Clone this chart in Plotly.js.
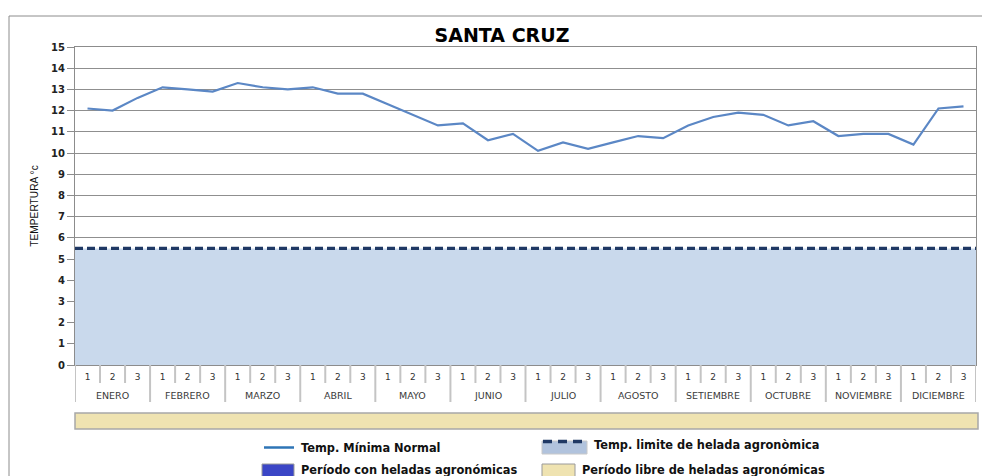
<!DOCTYPE html>
<html>
<head>
<meta charset="utf-8">
<script src="https://cdn.plot.ly/plotly-3.0.1.min.js"></script>
<style>
html,body{margin:0;padding:0;background:#fff;}
#chart{width:982px;height:476px;}
</style>
</head>
<body>
<div id="chart"></div>
<script>
// ---- data ----
const chartTitle = 'SANTA CRUZ';
const yTitle = 'TEMPERTURA °c';
const months = ['ENERO','FEBRERO','MARZO','ABRIL','MAYO','JUNIO','JULIO','AGOSTO','SETIEMBRE','OCTUBRE','NOVIEMBRE','DICIEMBRE'];
const dekadLabels = ['1','2','3'];
const tempMin = [12.1,12.0,12.6,13.1,13.0,12.9,13.3,13.1,13.0,13.1,12.8,12.8,
                 12.3,11.8,11.3,11.4,10.6,10.9,10.1,10.5,10.2,10.5,10.8,10.7,
                 11.3,11.7,11.9,11.8,11.3,11.5,10.8,10.9,10.9,10.4,12.1,12.2];
const frostLimit = 5.5;
const legendNames = ['Temp. Mínima Normal','Temp. limite de helada agronòmica','Período con heladas agronómicas','Período libre de heladas agronómicas'];

// ---- derived ----
const nPer = dekadLabels.length;
const N = months.length * nPer;
const xIdx = tempMin.map((_, i) => i + 0.5);
const tickText = [];
months.forEach(() => dekadLabels.forEach(d => tickText.push(d)));

// geometry helpers (px -> paper)
const W = 982, H = 476;
const M = {l: 75, r: 6, t: 47, b: 111};
const PW = W - M.l - M.r, PH = H - M.t - M.b;
const px = x => (x - M.l) / PW;
const py = y => (H - M.b - y) / PH;

const traces = [
  {x: [0, N], y: [frostLimit, frostLimit], type: 'scatter', mode: 'lines',
   fill: 'tozeroy', fillcolor: '#c9d9ec',
   line: {color: '#1f3864', width: 3.2, dash: '8px,4px'}, showlegend: false, hoverinfo: 'skip'},
  {x: xIdx, y: tempMin, type: 'scatter', mode: 'lines',
   line: {color: '#5b87c5', width: 2.2}, showlegend: false, name: legendNames[0]}
];

const shapes = [];
const annotations = [];
const divColor = '#c4c4c4';
// dividers between dekads and months
for (let b = 0; b <= N; b++) {
  const isMonth = b % nPer === 0;
  shapes.push({type: 'line', xref: 'x', yref: 'paper', x0: b, x1: b,
    y0: 0, y1: isMonth ? py(402) : py(383),
    line: {color: divColor, width: 2}});
}
// month labels
months.forEach((m, k) => {
  annotations.push({xref: 'x', yref: 'paper', x: k * nPer + nPer / 2, y: py(395.5),
    text: m, showarrow: false, xanchor: 'center', yanchor: 'middle',
    font: {family: 'DejaVu Sans', size: 9.5, color: '#3a3a3a'}});
});
// tan period bar
shapes.push({type: 'rect', xref: 'paper', yref: 'paper', x0: 0, x1: px(978), y0: py(413), y1: py(429),
  fillcolor: '#efe3b1', line: {color: '#a8a8a8', width: 1.5}});
// outer frame
shapes.push({type: 'line', xref: 'paper', yref: 'paper', x0: px(9), x1: px(982), y0: py(16), y1: py(16), line: {color: '#8c8c8c', width: 1}});
shapes.push({type: 'line', xref: 'paper', yref: 'paper', x0: px(9), x1: px(9), y0: py(16), y1: py(476), line: {color: '#8c8c8c', width: 1}});

// legend (manual)
const legFont = {family: 'DejaVu Sans', size: 11.4, color: '#111', weight: 'bold'};
// item 1: line
shapes.push({type: 'line', xref: 'paper', yref: 'paper', x0: px(264), x1: px(294), y0: py(447.5), y1: py(447.5), line: {color: '#2e75b6', width: 2.5}});
annotations.push({xref: 'paper', yref: 'paper', x: px(299), y: py(447.5), text: legendNames[0], showarrow: false, xanchor: 'left', yanchor: 'middle', font: legFont});
// item 2: limit swatch
shapes.push({type: 'rect', xref: 'paper', yref: 'paper', x0: px(542), x1: px(587), y0: py(454), y1: py(441), fillcolor: '#b1c3dd', line: {color: '#c8c8c8', width: 1}});
shapes.push({type: 'line', xref: 'paper', yref: 'paper', x0: px(543), x1: px(587), y0: py(441.5), y1: py(441.5), line: {color: '#1f3864', width: 3.5, dash: '9px,6px'}});
annotations.push({xref: 'paper', yref: 'paper', x: px(592), y: py(445.5), text: legendNames[1], showarrow: false, xanchor: 'left', yanchor: 'middle', font: legFont});
// item 3: frost period
shapes.push({type: 'rect', xref: 'paper', yref: 'paper', x0: px(262), x1: px(294), y0: py(478), y1: py(464), fillcolor: '#3b46c6', line: {color: '#9a9a9a', width: 1}});
annotations.push({xref: 'paper', yref: 'paper', x: px(299), y: py(470), text: legendNames[2], showarrow: false, xanchor: 'left', yanchor: 'middle', font: legFont});
// item 4: frost-free period
shapes.push({type: 'rect', xref: 'paper', yref: 'paper', x0: px(542), x1: px(575), y0: py(478), y1: py(464), fillcolor: '#efe3b1', line: {color: '#9a9a9a', width: 1}});
annotations.push({xref: 'paper', yref: 'paper', x: px(580), y: py(470), text: legendNames[3], showarrow: false, xanchor: 'left', yanchor: 'middle', font: legFont});

const layout = {
  width: W, height: H,
  margin: M,
  paper_bgcolor: '#ffffff', plot_bgcolor: 'rgba(0,0,0,0)',
  showlegend: false,
  title: {text: chartTitle, xref: 'container', yref: 'container', x: 502 / W, y: 1 - 35 / H,
    xanchor: 'center', yanchor: 'middle',
    font: {family: 'DejaVu Sans', size: 19, color: '#000', weight: 'bold'}},
  xaxis: {range: [0, N], tickvals: xIdx, ticktext: tickText, ticks: '', showgrid: false,
    zeroline: false, showline: true, mirror: true, linecolor: '#8c8c8c', linewidth: 1,
    tickfont: {family: 'DejaVu Sans', size: 9, color: '#333'}, ticklabelstandoff: 3},
  yaxis: {range: [0, 15], dtick: 1, tick0: 0, showgrid: true, gridcolor: '#8f8f8f', gridwidth: 1,
    zeroline: false, showline: true, mirror: true, linecolor: '#8c8c8c', linewidth: 1,
    ticks: 'outside', ticklen: 7, tickcolor: '#8c8c8c',
    tickfont: {family: 'DejaVu Sans', size: 10, color: '#222', weight: 'bold'},
    title: {text: yTitle, standoff: 10, font: {family: 'Liberation Sans Narrow, Liberation Sans', size: 10.2, color: '#111'}}},
  shapes: shapes,
  annotations: annotations
};

Plotly.newPlot('chart', traces, layout, {displayModeBar: false, staticPlot: true});
</script>
</body>
</html>
